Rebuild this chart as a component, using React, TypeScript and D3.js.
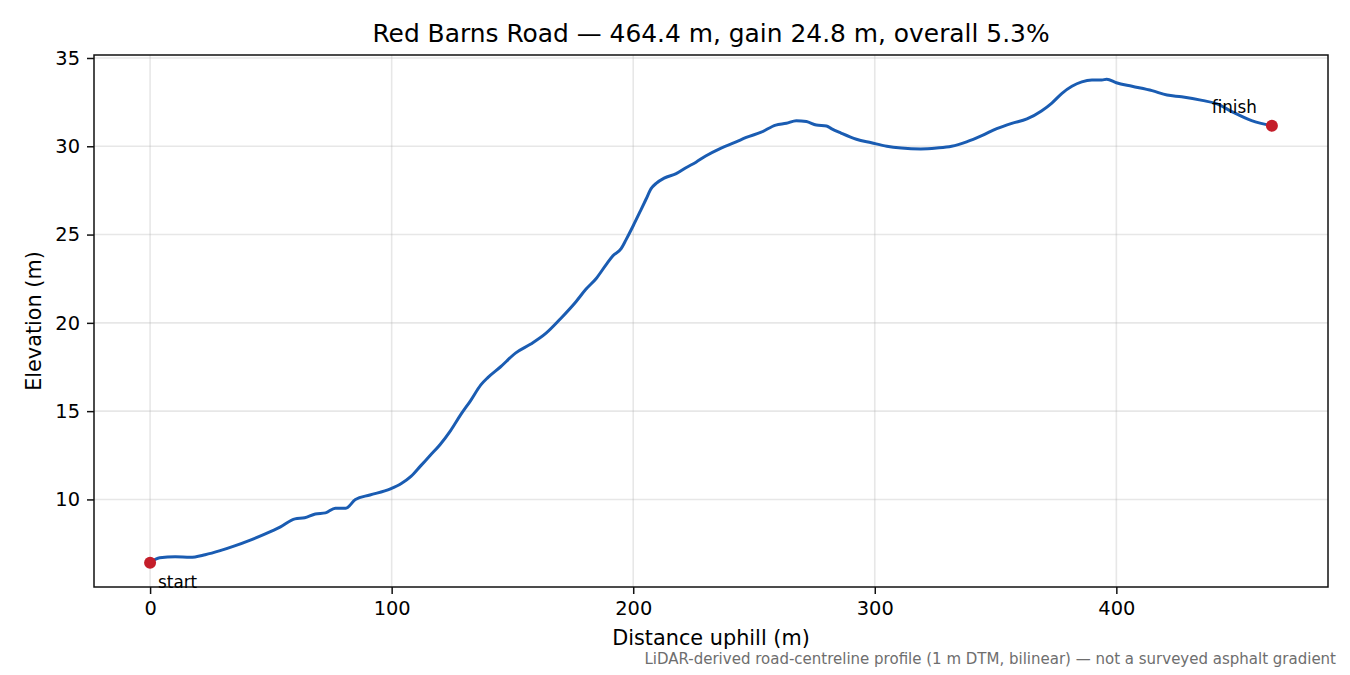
import React, { useEffect, useRef } from "react";
import * as d3 from "d3";

// profile: distance uphill (m) vs elevation (m)
const distances = [
  0, 4, 10.4, 16.6, 22.8, 29, 35, 41.5, 47.7, 54, 60, 64, 68.4, 72.6, 76.7, 81,
  85, 91, 99.5, 104, 108, 112, 116, 120, 124.4, 128.6, 132.7, 137, 139.8, 145,
  151.4, 157.6, 163.8, 170, 176.3, 180.4, 184.6, 188.8, 191.6, 195, 197, 200,
  203.2, 205.3, 207.4, 209.5, 212.8, 217.8, 222, 226, 230, 236.4, 242.6, 246.8,
  253, 259, 263.4, 267.5, 271.7, 275.8, 280, 282, 286, 292.4, 298.6, 305, 311,
  319, 325.6, 331.8, 338, 344.3, 350.5, 356.7, 363, 369, 373.3, 377.5, 381.6,
  385.7, 389.9, 394, 396, 400, 406.5, 414.8, 421, 427, 435.5, 441.7, 448, 456,
  464.4,
];
const elevations = [
  6.41, 6.7, 6.75, 6.72, 6.87, 7.1, 7.37, 7.7, 8.05, 8.45, 8.9, 8.96, 9.18, 9.24,
  9.5, 9.5, 10.0, 10.25, 10.6, 10.9, 11.3, 11.9, 12.5, 13.1, 13.9, 14.8, 15.6,
  16.5, 16.9, 17.5, 18.3, 18.8, 19.4, 20.25, 21.2, 21.9, 22.5, 23.3, 23.8, 24.2,
  24.7, 25.5, 26.4, 27.0, 27.6, 27.9, 28.2, 28.45, 28.8, 29.1, 29.45, 29.9,
  30.25, 30.5, 30.8, 31.2, 31.3, 31.45, 31.4, 31.2, 31.15, 31.0, 30.75, 30.4,
  30.2, 30.0, 29.9, 29.85, 29.9, 30.0, 30.25, 30.6, 31.0, 31.3, 31.55, 32.0,
  32.45, 33.0, 33.4, 33.65, 33.75, 33.75, 33.8, 33.6, 33.4, 33.15, 32.9, 32.8,
  32.6, 32.4, 31.95, 31.45, 31.16,
];
const xTicks = [0, 100, 200, 300, 400];
const yTicks = [10, 15, 20, 25, 30, 35];

const App: React.FC = () => {
  const svgRef = useRef<SVGSVGElement | null>(null);

  useEffect(() => {
    if (!svgRef.current) return;
    const svg = d3.select(svgRef.current);
    svg.selectAll("*").remove();

    const width = 1350;
    const height = 675;
    const margin = { top: 55, right: 22, bottom: 88, left: 94 };
    const innerWidth = width - margin.left - margin.right;
    const innerHeight = height - margin.top - margin.bottom;
    const font = "DejaVu Sans, sans-serif";

    const data = distances.map((d, i) => ({ x: d, y: elevations[i] }));

    const xMin = 0;
    const xMax = d3.max(distances)!;
    const yMin = d3.min(elevations)!;
    const yMax = d3.max(elevations)!;
    const xPad = (xMax - xMin) * 0.05;
    const yPad = (yMax - yMin) * 0.05;

    const xScale = d3
      .scaleLinear()
      .domain([xMin - xPad, xMax + xPad])
      .range([0, innerWidth]);
    const yScale = d3
      .scaleLinear()
      .domain([yMin - yPad, yMax + yPad])
      .range([innerHeight, 0]);

    svg.attr("width", width).attr("height", height);
    svg.append("rect").attr("width", width).attr("height", height).attr("fill", "#fff");

    const g = svg
      .append("g")
      .attr("transform", `translate(${margin.left},${margin.top})`);

    // grid
    g.append("g")
      .selectAll("line")
      .data(xTicks)
      .enter()
      .append("line")
      .attr("x1", (d) => xScale(d))
      .attr("x2", (d) => xScale(d))
      .attr("y1", 0)
      .attr("y2", innerHeight)
      .attr("stroke", "#b0b0b0")
      .attr("stroke-opacity", 0.3)
      .attr("stroke-width", 1.6);
    g.append("g")
      .selectAll("line")
      .data(yTicks)
      .enter()
      .append("line")
      .attr("x1", 0)
      .attr("x2", innerWidth)
      .attr("y1", (d) => yScale(d))
      .attr("y2", (d) => yScale(d))
      .attr("stroke", "#b0b0b0")
      .attr("stroke-opacity", 0.3)
      .attr("stroke-width", 1.6);

    // axes
    const xAxis = g
      .append("g")
      .attr("transform", `translate(0,${innerHeight})`)
      .call(d3.axisBottom(xScale).tickValues(xTicks).tickSize(7).tickPadding(7));
    const yAxis = g
      .append("g")
      .call(d3.axisLeft(yScale).tickValues(yTicks).tickSize(7).tickPadding(7));
    [xAxis, yAxis].forEach((a) => {
      a.select(".domain").remove();
      a.selectAll("line").attr("stroke", "#111").attr("stroke-width", 1.5);
      a.selectAll("text")
        .attr("font-family", font)
        .attr("font-size", 19.4)
        .attr("fill", "#000");
    });

    // frame
    g.append("rect")
      .attr("width", innerWidth)
      .attr("height", innerHeight)
      .attr("fill", "none")
      .attr("stroke", "#111")
      .attr("stroke-width", 1.5);

    // profile
    const line = d3
      .line<{ x: number; y: number }>()
      .x((d) => xScale(d.x))
      .y((d) => yScale(d.y))
      .curve(d3.curveMonotoneX);
    g.append("path")
      .datum(data)
      .attr("d", line)
      .attr("fill", "none")
      .attr("stroke", "#1a5cb2")
      .attr("stroke-width", 3)
      .attr("stroke-linejoin", "round");

    const first = data[0];
    const last = data[data.length - 1];
    g.selectAll("circle.end")
      .data([first, last])
      .enter()
      .append("circle")
      .attr("class", "end")
      .attr("cx", (d) => xScale(d.x))
      .attr("cy", (d) => yScale(d.y))
      .attr("r", 6)
      .attr("fill", "#c41e2a");

    g.append("text")
      .attr("x", xScale(first.x) + 8)
      .attr("y", yScale(first.y) + 25)
      .attr("font-family", font)
      .attr("font-size", 16.8)
      .attr("fill", "#000")
      .text("start");
    g.append("text")
      .attr("x", xScale(last.x) - 15)
      .attr("y", yScale(last.y) - 13)
      .attr("text-anchor", "end")
      .attr("font-family", font)
      .attr("font-size", 16.8)
      .attr("fill", "#000")
      .text("finish");

    // labels
    svg
      .append("text")
      .attr("x", margin.left + innerWidth / 2)
      .attr("y", 42)
      .attr("text-anchor", "middle")
      .attr("font-family", font)
      .attr("font-size", 24.9)
      .attr("fill", "#000")
      .text("Red Barns Road — 464.4 m, gain 24.8 m, overall 5.3%");
    svg
      .append("text")
      .attr("x", margin.left + innerWidth / 2)
      .attr("y", 645)
      .attr("text-anchor", "middle")
      .attr("font-family", font)
      .attr("font-size", 20.8)
      .attr("fill", "#000")
      .text("Distance uphill (m)");
    svg
      .append("text")
      .attr("transform", `translate(41,${margin.top + innerHeight / 2}) rotate(-90)`)
      .attr("text-anchor", "middle")
      .attr("font-family", font)
      .attr("font-size", 20.8)
      .attr("fill", "#000")
      .text("Elevation (m)");
    svg
      .append("text")
      .attr("x", 1336)
      .attr("y", 664)
      .attr("text-anchor", "end")
      .attr("font-family", font)
      .attr("font-size", 15)
      .attr("fill", "#6e6e6e")
      .text("LiDAR-derived road-centreline profile (1 m DTM, bilinear) — not a surveyed asphalt gradient");
  }, []);

  return (
    <svg
      ref={svgRef}
      style={{ position: "absolute", left: 0, top: 0, display: "block" }}
    ></svg>
  );
};

export default App;
